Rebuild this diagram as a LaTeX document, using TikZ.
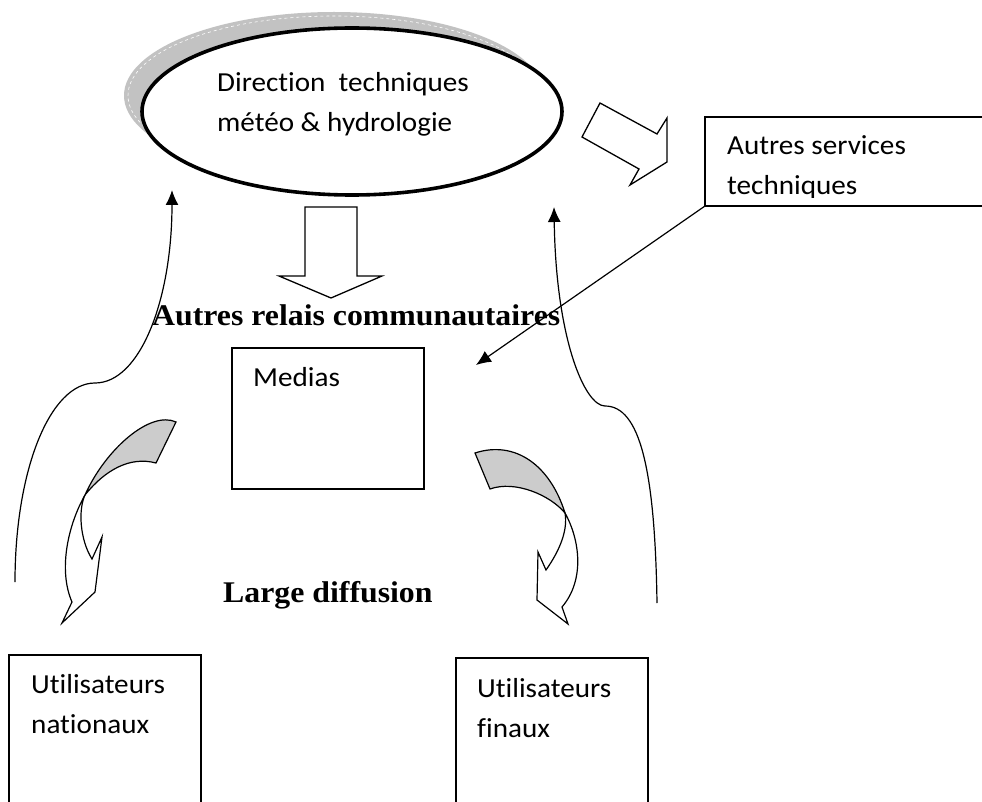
\documentclass[tikz,border=0pt]{standalone}
\usepackage{fontspec}
\setmainfont{Carlito}
\newfontfamily\calfont[FakeStretch=1.06,Ligatures=NoCommon]{Carlito}
\newfontfamily\tnrfont[FakeStretch=1.06]{Liberation Serif}
\usetikzlibrary{arrows.meta,shapes.geometric}
\begin{document}
\begin{tikzpicture}[x=1pt,y=-1pt,
  txt/.style={font=\calfont\fontsize{27.5}{32}\selectfont, anchor=base west, inner sep=0pt},
  btxt/.style={font=\tnrfont\bfseries\fontsize{30}{36}\selectfont, anchor=base west, inner sep=0pt},
  box/.style={draw, line width=1.3pt, rectangle, inner sep=0pt, outer sep=0pt, anchor=north west},
  blockarrow/.style={draw, line width=1.3pt, fill=white, line join=miter},
  thinline/.style={line width=1.2pt},
  tipped/.style={-{Latex[length=15pt,width=13pt]}},
  curvedband/.style={draw, line width=1.2pt, fill=black!20},
  curvedbody/.style={draw, line width=1.2pt, fill=white, line join=miter}]
\clip (0,0) rectangle (982,802);
\fill[white] (0,0) rectangle (982,802);

% ellipse with shadow
\node[ellipse, fill=black!24, minimum width=420pt, minimum height=167pt, inner sep=0pt] (dirsh) at (334,95.5) {};
\node[ellipse, draw=white, dashed, line width=0.6pt, minimum width=412pt, minimum height=159pt, inner sep=0pt] (dirshline) at (334,95.5) {};
\node[ellipse, draw, fill=white, line width=3.6pt, minimum width=420pt, minimum height=167pt, inner sep=0pt] (dir) at (352,111.5) {};
\node[txt] (dirA) at (217,92) {Direction\ \ techniques};
\node[txt] (dirB) at (217,132) {météo \& hydrologie};

% block arrows
\draw[blockarrow] (600,103) -- (657,134) -- (667,118) -- (667,162) -- (630,185) -- (639,169) -- (582,137) -- cycle;
\draw[blockarrow] (305,207) -- (357,207) -- (357,276) -- (382,276) -- (331,298) -- (279,276) -- (305,276) -- cycle;

% boxes
\node[box, minimum width=300pt, minimum height=89pt] (serv) at (705,117) {};
\node[txt] (servA) at (727,155) {Autres services};
\begin{scope}
  \clip (700,160) rectangle (982,197.5);
  \node[txt] (servB) at (727,195) {techniques};
\end{scope}

\node[box, minimum width=192pt, minimum height=141pt] (med) at (232,348) {};
\node[txt] (medT) at (253,386) {Medias};

\node[box, minimum width=192pt, minimum height=170pt] (nat) at (9,655) {};
\node[txt] (natA) at (31,693) {Utilisateurs};
\node[txt] (natB) at (31,733) {nationaux};

\node[box, minimum width=192pt, minimum height=170pt] (fin) at (456,658) {};
\node[txt] (finA) at (477,697) {Utilisateurs};
\node[txt] (finB) at (477,737) {finaux};

% bold labels
\node[btxt] (relais) at (152,325) {Autres relais communautaires};
\node[btxt] (large) at (223,602) {Large diffusion};

% connectors
\coordinate (medtgt) at (476,365);
\draw[thinline, tipped] (serv.south west) -- (medtgt);

\coordinate (lstart) at (15,582);
\coordinate (lend) at (172,190);
\draw[thinline, tipped] (lstart) .. controls (15,470) and (50,383) .. (95,383) .. controls (140,383) and (172,300) .. (lend);

\coordinate (rstart) at (657,603);
\coordinate (rend) at (554,207);
\draw[thinline, tipped] (rstart) .. controls (655,470) and (640,406) .. (605,406) .. controls (585,406) and (556,340) .. (rend);

% curved block arrows
\path[curvedband] (176,422) .. controls (150,410) and (105,450) .. (85,495) .. controls (105,470) and (130,456) .. (156,463) -- cycle;
\path[curvedbody] (85,495) .. controls (68,525) and (58,570) .. (72,602) -- (62,623) -- (95,592) -- (102,537) -- (92,559) .. controls (80,540) and (78,510) .. (85,495) -- cycle;

\path[curvedband] (475,453) .. controls (515,440) and (550,465) .. (565,513) .. controls (550,495) and (515,480) .. (490,489) -- cycle;
\path[curvedbody] (565,513) .. controls (580,540) and (585,580) .. (562,607) -- (568,624) -- (537,600) -- (538,552) -- (546,570) .. controls (560,550) and (568,530) .. (565,513) -- cycle;
\end{tikzpicture}
\end{document}
